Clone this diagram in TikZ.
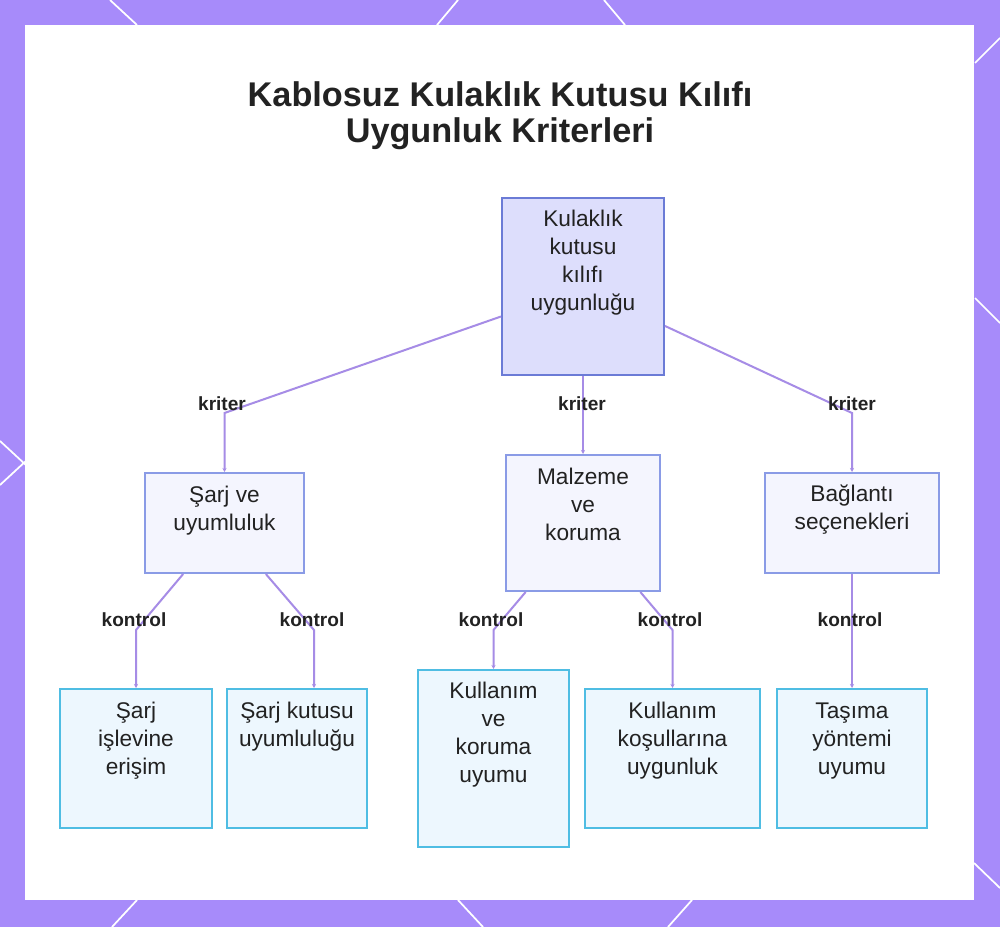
\documentclass[tikz,border=0pt]{standalone}
\usepackage{fontspec}
\setmainfont{Liberation Sans}
\usetikzlibrary{arrows.meta}
\definecolor{bordpurple}{HTML}{A78BFA}
\definecolor{edgecol}{HTML}{A68CE6}
\definecolor{rootfill}{HTML}{DDDEFC}
\definecolor{rootdraw}{HTML}{6B7BD6}
\definecolor{midfill}{HTML}{F4F5FE}
\definecolor{middraw}{HTML}{8A9BE6}
\definecolor{leaffill}{HTML}{EDF7FE}
\definecolor{leafdraw}{HTML}{4FBDE3}
\definecolor{txtcol}{HTML}{222222}
\tikzset{
  rootbox/.style={draw=rootdraw, fill=rootfill, line width=1.5pt, inner sep=0pt},
  midbox/.style={draw=middraw, fill=midfill, line width=1.5pt, inner sep=0pt},
  leafbox/.style={draw=leafdraw, fill=leaffill, line width=1.5pt, inner sep=0pt},
  boxtxt/.style={text=txtcol, align=center, inner sep=0pt, font=\fontsize{17}{21}\selectfont},
  lbl/.style={text=txtcol, inner sep=0pt, font=\bfseries\fontsize{14.3}{16}\selectfont},
  edge/.style={draw=edgecol, line width=1.5pt, -{Stealth[length=3pt,width=3pt]}},
  deco/.style={draw=white, line width=1.3pt}
}
\begin{document}
\begin{tikzpicture}[x=0.75pt,y=-0.75pt]
\useasboundingbox (0,0) rectangle (1000,927);
\fill[bordpurple] (0,0) rectangle (1000,927);
\fill[white] (25,25) rectangle (974,900);
% decorative lines in the border
\draw[deco] (110,0) -- (137,25);
\draw[deco] (458,0) -- (437,25);
\draw[deco] (604,0) -- (625,25);
\draw[deco] (1000,38) -- (975,63);
\draw[deco] (975,298) -- (1000,323);
\draw[deco] (0,441) -- (27,466);
\draw[deco] (0,485) -- (27,460);
\draw[deco] (137,900) -- (112,927);
\draw[deco] (458,900) -- (483,927);
\draw[deco] (692,900) -- (668,927);
\draw[deco] (974,863) -- (1000,888);
% title
\node[text=txtcol, align=center, inner sep=0pt, font=\bfseries\fontsize{25.7}{27}\selectfont] (title) at (500,116)
  {Kablosuz Kulaklık Kutusu Kılıfı\\Uygunluk Kriterleri};
% boxes
\node[rootbox, minimum width=121.5pt, minimum height=132.75pt] (root) at (583,286.5) {};
\node[boxtxt] (rootT) at (583,262.5) {Kulaklık\\kutusu\\kılıfı\\uygunluğu};
\node[midbox, minimum width=119.25pt, minimum height=75pt] (sarj) at (224.5,523) {};
\node[boxtxt] (sarjT) at (224.5,510.5) {Şarj ve\\uyumluluk};
\node[midbox, minimum width=115.5pt, minimum height=102pt] (malz) at (583,523) {};
\node[boxtxt] (malzT) at (583,504) {Malzeme\\ve\\koruma};
\node[midbox, minimum width=130.5pt, minimum height=75pt] (bagl) at (852,523) {};
\node[boxtxt] (baglT) at (852,510) {Bağlantı\\seçenekleri};
\node[leafbox, minimum width=114pt, minimum height=104.25pt] (l1) at (136,758.5) {};
\node[boxtxt] (l1T) at (136,741) {Şarj\\işlevine\\erişim};
\node[leafbox, minimum width=105pt, minimum height=104.25pt] (l2) at (297,758.5) {};
\node[boxtxt] (l2T) at (297,727) {Şarj kutusu\\uyumluluğu};
\node[leafbox, minimum width=113.25pt, minimum height=132.75pt] (l3) at (493.5,758.5) {};
\node[boxtxt] (l3T) at (493.5,735) {Kullanım\\ve\\koruma\\uyumu};
\node[leafbox, minimum width=131.25pt, minimum height=104.25pt] (l4) at (672.5,758.5) {};
\node[boxtxt] (l4T) at (672.5,741) {Kullanım\\koşullarına\\uygunluk};
\node[leafbox, minimum width=112.5pt, minimum height=104.25pt] (l5) at (852,758.5) {};
\node[boxtxt] (l5T) at (852,741) {Taşıma\\yöntemi\\uyumu};
% bend coordinates
\coordinate (b1) at (224.5,413);
\coordinate (b2) at (852,413);
\coordinate (c1) at (136,630);
\coordinate (c2) at (314,630);
\coordinate (c3) at (493.5,630);
\coordinate (c4) at (672.5,630);
% edges
\draw[edge] ([yshift=-22.5pt]root.west) -- (b1) -- (sarj.north);
\draw[edge] (root.south) -- (malz.north);
\draw[edge] ([yshift=-29.6pt]root.east) -- (b2) -- (bagl.north);
\draw[edge] ([xshift=-31pt]sarj.south) -- (c1) -- (l1.north);
\draw[edge] ([xshift=31pt]sarj.south) -- (c2) -- (c2 |- l2.north);
\draw[edge] ([xshift=-43pt]malz.south) -- (c3) -- (l3.north);
\draw[edge] ([xshift=43pt]malz.south) -- (c4) -- (l4.north);
\draw[edge] (bagl.south) -- (l5.north);
% labels
\node[lbl] (k1) at (222,404) {kriter};
\node[lbl] (k2) at (582,404) {kriter};
\node[lbl] (k3) at (852,404) {kriter};
\node[lbl] (m1) at (134,620) {kontrol};
\node[lbl] (m2) at (312,620) {kontrol};
\node[lbl] (m3) at (491,620) {kontrol};
\node[lbl] (m4) at (670,620) {kontrol};
\node[lbl] (m5) at (850,620) {kontrol};
\end{tikzpicture}
\end{document}
